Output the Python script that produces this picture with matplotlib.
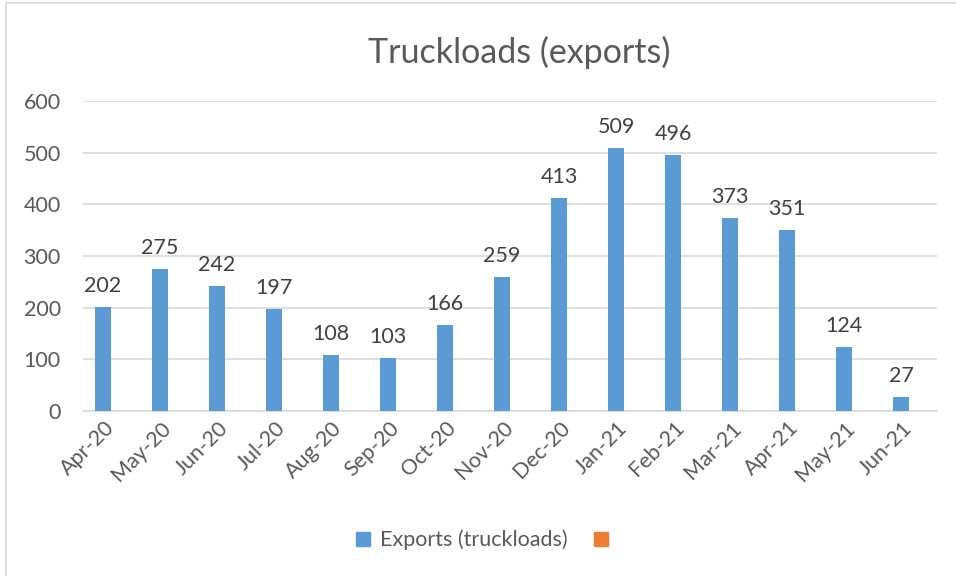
import matplotlib
matplotlib.use("Agg")
import matplotlib.pyplot as plt
import matplotlib.transforms as mtransforms
from matplotlib.patches import Rectangle, Patch
import numpy as np

months = ["Apr-20", "May-20", "Jun-20", "Jul-20", "Aug-20", "Sep-20", "Oct-20",
          "Nov-20", "Dec-20", "Jan-21", "Feb-21", "Mar-21", "Apr-21", "May-21", "Jun-21"]
exports = [202, 275, 242, 197, 108, 103, 166, 259, 413, 509, 496, 373, 351, 124, 27]
yticks = [0, 100, 200, 300, 400, 500, 600]

blue = "#5B9BD5"
orange = "#ED7D31"
grey = "#595959"

plt.rcParams['font.family'] = ['Lato', 'DejaVu Sans']

fig = plt.figure(figsize=(9.56, 5.76), dpi=100)
W, H = 956, 576
ax = fig.add_axes([83 / W, (H - 411) / H, (937 - 83) / W, (411 - 101) / H])

# outer chart frame
fig.patches.append(Rectangle((6 / W, -0.01), (W - 5) / W, (H - 3) / H + 0.01,
                             transform=fig.transFigure, fill=False,
                             edgecolor="#D9D9D9", linewidth=1.2))

x = np.arange(len(months))
ax.bar(x, exports, width=0.28, color=blue, zorder=3)

# value labels above bars
for xi, v in zip(x, exports):
    ax.annotate(str(v), (xi, v), xytext=(0, 8), textcoords="offset points",
                ha="center", va="bottom", fontsize=15.5, color="#404040")

ax.set_xlim(-0.35, 14.63)
ax.set_ylim(0, 600)
ax.set_yticks(yticks)
ax.set_yticklabels([str(t) for t in yticks], fontsize=15.5, color=grey)
ax.set_xticks(x)
ax.set_xticklabels(months, rotation=45, ha="right", va="center",
                   rotation_mode="anchor", fontsize=15.5, color=grey)
ax.tick_params(axis="both", length=0)
ax.tick_params(axis="y", pad=16)
ax.tick_params(axis="x", pad=10)
shift = mtransforms.ScaledTranslation(8 / 100, 0, fig.dpi_scale_trans)
for lbl in ax.get_xticklabels():
    lbl.set_transform(lbl.get_transform() + shift)

ax.grid(axis="y", color="#D9D9D9", linewidth=1.2, zorder=0)
for s in ["top", "right", "left"]:
    ax.spines[s].set_visible(False)
ax.spines["bottom"].set_color("#D9D9D9")
ax.spines["bottom"].set_linewidth(1.2)

fig.text(519 / W, 1 - 52 / H, "Truckloads (exports)", ha="center", va="center",
         fontsize=24.5, color=grey)

handles = [Patch(color=blue), Patch(color=orange)]
fig.legend(handles, ["Exports (truckloads)", ""], loc="center",
           bbox_to_anchor=(487 / W, 1 - 540 / H), ncol=2, frameon=False,
           fontsize=15.5, labelcolor=grey, handlelength=0.65, handleheight=0.65,
           handletextpad=0.5, columnspacing=1.2)

fig.savefig("out.png", dpi=100)
